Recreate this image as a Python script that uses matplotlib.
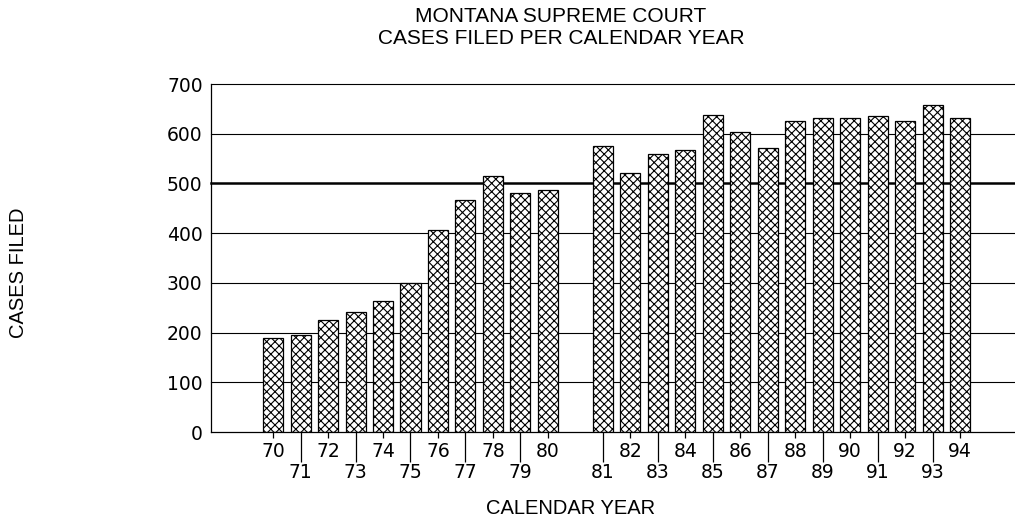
import matplotlib

matplotlib.use("Agg")

import matplotlib.pyplot as plt

plt.rcParams["hatch.linewidth"] = 0.8

# cases filed per calendar year
years = [70, 71, 72, 73, 74, 75, 76, 77, 78, 79, 80,
         81, 82, 83, 84, 85, 86, 87, 88, 89, 90, 91, 92, 93, 94]
cases = [190, 196, 225, 241, 264, 299, 406, 467, 515, 480, 487,
         575, 521, 560, 567, 638, 603, 572, 626, 632, 632, 636, 626, 658, 631]
y_ticks = [0, 100, 200, 300, 400, 500, 600, 700]

# one empty slot between 1980 and 1981
pos = [y - 70 + (1 if y >= 81 else 0) for y in years]

TEXT_FONT = ["Liberation Sans", "DejaVu Sans"]
TICK_FONT = "DejaVu Sans"

fig = plt.figure(figsize=(10.15, 5.24), dpi=100)
ax = fig.add_axes([211 / 1015, 92 / 524, 804 / 1015, 348 / 524])

for v in y_ticks[1:]:
    ax.axhline(v, color="black", lw=1.8 if v == 500 else 0.8, zorder=0, clip_on=False)

ax.bar(pos, cases, width=0.73, color="white", edgecolor="black",
       hatch="xxxx", linewidth=0.9, zorder=2)

ax.set_xlim(-2.26, 27.0)
ax.set_ylim(0, 700)
ax.set_yticks(y_ticks)
ax.set_yticklabels([str(v) for v in y_ticks], fontfamily=TICK_FONT, fontsize=13.5)
ax.tick_params(axis="y", length=0, pad=6)

even = [(p, y) for p, y in zip(pos, years) if y % 2 == 0]
odd = [(p, y) for p, y in zip(pos, years) if y % 2 == 1]
ax.set_xticks([p for p, _ in even])
ax.set_xticklabels([str(y) for _, y in even], fontfamily=TICK_FONT, fontsize=13.5)
ax.set_xticks([p for p, _ in odd], minor=True)
ax.set_xticklabels([str(y) for _, y in odd], minor=True, fontfamily=TICK_FONT, fontsize=13.5)
ax.tick_params(axis="x", which="major", length=4.5, width=0.9, pad=3, color="black")
ax.tick_params(axis="x", which="minor", length=21.5, width=0.9, pad=1, color="black")

for side in ("top", "right"):
    ax.spines[side].set_visible(False)
ax.spines["left"].set_linewidth(0.9)
ax.spines["bottom"].set_linewidth(0.9)

fig.text(561 / 1015, 1 - 17 / 524, "MONTANA SUPREME COURT", ha="center", va="center",
         fontfamily=TEXT_FONT, fontsize=15)
fig.text(561 / 1015, 1 - 38 / 524, "CASES FILED PER CALENDAR YEAR", ha="center",
         va="center", fontfamily=TEXT_FONT, fontsize=15)
fig.text(571 / 1015, 1 - 509 / 524, "CALENDAR YEAR", ha="center", va="center",
         fontfamily=TEXT_FONT, fontsize=14.5)
fig.text(19 / 1015, 1 - 273 / 524, "CASES FILED", ha="center", va="center",
         rotation=90, fontfamily=TEXT_FONT, fontsize=14.5)

fig.savefig("out.png", dpi=100)
